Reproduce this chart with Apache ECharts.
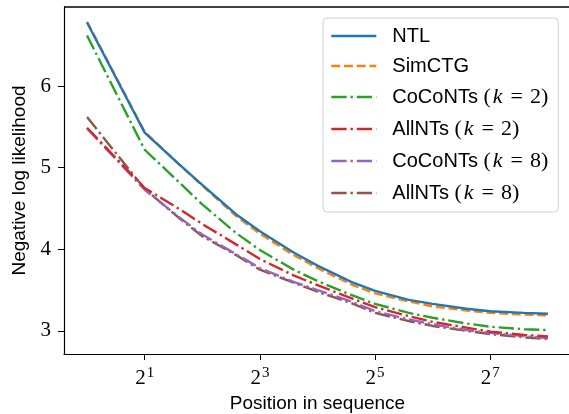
<!DOCTYPE html>
<html><head><meta charset="utf-8">
<script src="https://cdn.jsdelivr.net/npm/echarts@6/dist/echarts.min.js"></script>
<style>html,body{margin:0;padding:0;background:#fff}#c{width:569px;height:414px}</style>
</head><body><div id="c"></div>
<script>
const positions = [1,2,3,4,6,8,12,16,24,32,48,64,96,128,192,256];
const seriesNames = ['NTL','SimCTG','CoCoNTs (k = 2)','AllNTs (k = 2)','CoCoNTs (k = 8)','AllNTs (k = 8)'];
const ntl      = [6.78,5.43,5.05,4.79,4.43,4.22,3.96,3.80,3.60,3.49,3.38,3.33,3.27,3.24,3.22,3.21];
const simctg   = [6.79,5.44,5.05,4.78,4.41,4.19,3.93,3.77,3.57,3.46,3.36,3.30,3.25,3.22,3.20,3.19];
const coconts2 = [6.62,5.22,4.83,4.55,4.20,3.99,3.75,3.61,3.44,3.33,3.22,3.16,3.09,3.05,3.02,3.01];
const allnts2  = [5.49,4.75,4.50,4.31,4.06,3.88,3.68,3.56,3.40,3.29,3.18,3.11,3.04,2.99,2.95,2.93];
const coconts8 = [5.48,4.73,4.40,4.18,3.94,3.77,3.60,3.50,3.36,3.24,3.14,3.08,3.01,2.975,2.935,2.91];
const allnts8  = [5.62,4.74,4.39,4.16,3.93,3.75,3.59,3.48,3.34,3.22,3.12,3.06,3.00,2.96,2.92,2.90];
const xTicks = [2,8,32,128];
const yTicks = [3,4,5,6];

const allVals = [ntl,simctg,coconts2,allnts2,coconts8,allnts8];
const colors = ['#1f77b4','#ff7f0e','#2ca02c','#d62728','#9467bd','#8c564b'];
const lw = 2.4;
const dashed = [3.7*lw,1.6*lw];
const dashdot = [6.4*lw,1.6*lw,1*lw,1.6*lw];
const types = ['solid',dashed,dashdot,dashdot,dashdot,dashdot];

const SANS = '"Liberation Sans", Arial, sans-serif';
const SERIF = '"Liberation Serif", "DejaVu Serif", serif';
const xMin = Math.pow(2,-0.4), xMax = Math.pow(2,8.4);
const yMin = 2.716, yMax = 6.97;

const chart = echarts.init(document.getElementById('c'), null, {renderer:'canvas'});
chart.setOption({
  animation:false,
  backgroundColor:'#fff',
  grid:{left:64, top:7, right:-2, bottom:60, containLabel:false, outerBoundsMode:'none'},
  legend:{
    orient:'vertical', left:323, top:18,
    padding:[8,10,8,7], itemGap:10, itemWidth:45, itemHeight:18,
    backgroundColor:'#fff', borderColor:'#d0d0d0', borderWidth:1, borderRadius:4,
    data: seriesNames,
    itemStyle:{opacity:0},
    lineStyle:{width:2.6},
    formatter: function(name){
      const m = name.match(/^(.*) \(k = (\d)\)$/);
      if(!m) return name;
      return m[1] + ' {m|(}{i|k}{e|=}{m|' + m[2] + ')}';
    },
    textStyle:{fontFamily:SANS, fontSize:20, color:'#000', padding:[0,0,0,11], lineHeight:20,
      rich:{
        m:{fontFamily:SERIF, fontSize:22, color:'#000'},
        e:{fontFamily:SERIF, fontSize:22, color:'#000', padding:[0,7,0,7]},
        i:{fontFamily:SERIF, fontStyle:'italic', fontSize:22, color:'#000', padding:[0,1,0,2]}
      }}
  },
  xAxis:{
    type:'log', logBase:2, min:xMin, max:xMax,
    name:'Position in sequence', nameLocation:'middle', nameGap:40,
    nameTextStyle:{fontFamily:SANS, fontSize:19, color:'#000'},
    axisLine:{lineStyle:{color:'#000', width:1.2}},
    axisTick:{show:true, inside:false, length:6, lineStyle:{color:'#000', width:1}, customValues:xTicks},
    axisLabel:{color:'#000', margin:12, customValues:xTicks,
      formatter:function(v){ return '{b|2}{s|' + Math.round(Math.log2(v)) + '}'; },
      rich:{ b:{fontFamily:SERIF, fontSize:21, color:'#000'},
             s:{fontFamily:SERIF, fontSize:15, color:'#000', verticalAlign:'top', padding:[0,0,9,1]} } },
    splitLine:{show:false}, minorTick:{show:false}
  },
  yAxis:{
    type:'value', min:yMin, max:yMax,
    name:'Negative log likelihood', nameLocation:'middle', nameGap:34, nameRotate:90,
    nameTextStyle:{fontFamily:SANS, fontSize:19, color:'#000'},
    axisLine:{show:true, lineStyle:{color:'#000', width:1.2}},
    axisTick:{show:true, inside:false, length:6, lineStyle:{color:'#000', width:1}, customValues:yTicks},
    axisLabel:{color:'#000', margin:13, fontFamily:SERIF, fontSize:21, customValues:yTicks},
    splitLine:{show:false}
  },
  series: seriesNames.map(function(n,i){
    return {
      name:n, type:'line', showSymbol:false, symbol:'none', smooth:false,
      data: positions.map(function(p,j){ return [p, allVals[i][j]]; }),
      lineStyle:{color:colors[i], width:lw, type:types[i]},
      itemStyle:{color:colors[i]},
      z: 10 - i
    };
  })
});
// top spine of the axes frame, positioned through the chart's own scales
const pTL = chart.convertToPixel({gridIndex:0}, [xMin, yMax]);
const pTR = chart.convertToPixel({gridIndex:0}, [xMax, yMax]);
chart.setOption({graphic:[
  {type:'line', z:100, shape:{x1:pTL[0], y1:pTL[1], x2:pTR[0], y2:pTR[1]}, style:{stroke:'#000', lineWidth:1.6}}
]});
</script></body></html>
